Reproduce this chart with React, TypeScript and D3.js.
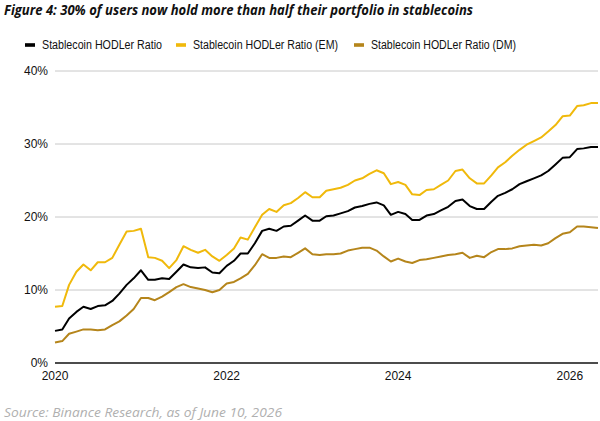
import React, { useEffect } from 'react';
import * as d3 from 'd3';

// monthly values, Jan 2020 .. May 2026 (%)
const overall = [
  4.4, 4.6, 6.1, 7.0, 7.7, 7.4, 7.8, 7.9, 8.5, 9.5, 10.7, 11.6,
  12.7, 11.4, 11.4, 11.6, 11.5, 12.5, 13.5, 13.1, 13.0, 13.1, 12.4, 12.3,
  13.3, 14.0, 15.0, 15.0, 16.4, 18.1, 18.4, 18.1, 18.7, 18.8, 19.5, 20.2,
  19.5, 19.5, 20.1, 20.2, 20.5, 20.8, 21.3, 21.5, 21.8, 22.0, 21.6, 20.3,
  20.7, 20.4, 19.6, 19.6, 20.2, 20.4, 20.9, 21.4, 22.2, 22.4, 21.5, 21.1,
  21.1, 22.1, 22.9, 23.3, 23.8, 24.5, 24.9, 25.3, 25.7, 26.3, 27.2, 28.1,
  28.2, 29.3, 29.4, 29.6, 29.6,
];
const emerging = [
  7.7, 7.8, 10.7, 12.5, 13.5, 12.7, 13.8, 13.8, 14.4, 16.2, 18.0, 18.1,
  18.4, 14.5, 14.4, 14.0, 13.0, 14.1, 16.0, 15.5, 15.1, 15.5, 14.6, 14.0,
  14.8, 15.7, 17.2, 16.9, 18.6, 20.3, 21.1, 20.7, 21.6, 21.9, 22.6, 23.4,
  22.7, 22.7, 23.6, 23.8, 24.0, 24.4, 25.0, 25.3, 25.9, 26.4, 26.0, 24.5,
  24.8, 24.4, 23.1, 23.0, 23.7, 23.8, 24.4, 25.0, 26.3, 26.5, 25.3, 24.6,
  24.6, 25.7, 26.8, 27.5, 28.4, 29.2, 29.9, 30.4, 30.9, 31.7, 32.6, 33.8,
  33.9, 35.2, 35.3, 35.6, 35.6,
];
const developed = [
  2.8, 3.0, 4.0, 4.3, 4.6, 4.6, 4.5, 4.6, 5.2, 5.7, 6.5, 7.4,
  8.9, 8.9, 8.6, 9.1, 9.7, 10.4, 10.8, 10.4, 10.2, 10.0, 9.7, 10.0,
  10.9, 11.1, 11.6, 12.2, 13.4, 14.9, 14.4, 14.4, 14.6, 14.5, 15.1, 15.7,
  14.9, 14.8, 14.9, 14.9, 15.0, 15.4, 15.6, 15.8, 15.8, 15.4, 14.6, 13.9,
  14.3, 13.9, 13.7, 14.1, 14.2, 14.4, 14.6, 14.8, 14.9, 15.1, 14.4, 14.7,
  14.5, 15.2, 15.6, 15.6, 15.7, 16.0, 16.1, 16.2, 16.1, 16.4, 17.1, 17.7,
  17.9, 18.7, 18.7, 18.6, 18.5,
];
const seriesNames = [
  'Stablecoin HODLer Ratio',
  'Stablecoin HODLer Ratio (EM)',
  'Stablecoin HODLer Ratio (DM)',
];
const yTicks = [0, 10, 20, 30, 40];
const xTickYears = [2020, 2022, 2024, 2026];

const colors = ['#000000', '#f0b90b', '#b5851b'];
const months = d3.timeMonth.range(new Date(2020, 0, 1), new Date(2026, 5, 1));

// legend layout (marker left edge, text width as in the original)
const legendX = [25, 176, 354];
const legendW = [120, 145, 145];

export default function App() {
  useEffect(() => {
    document.body.style.margin = '0';
  }, []);

  const x = d3.scaleTime()
    .domain([months[0], months[months.length - 1]])
    .range([55, 598]);
  const y = d3.scaleLinear().domain([0, 40]).range([363, 71]);

  const line = d3.line<number>()
    .x((_, i) => x(months[i]))
    .y(d => y(d));

  const series = [overall, emerging, developed];

  return (
    <svg width={600} height={421} style={{ display: 'block', background: '#fff' }}>
      <text x={4} y={15} fontFamily="'Open Sans', sans-serif" fontWeight={700} fontStyle="italic"
        fontSize={13.5} fill="#111" textLength={469} lengthAdjust="spacingAndGlyphs">
        Figure 4: 30% of users now hold more than half their portfolio in stablecoins
      </text>

      <g fontFamily="'Liberation Sans', Arial, sans-serif" fontSize={12} fill="#111">
        {seriesNames.map((name, i) => (
          <g key={name} transform={`translate(${legendX[i]},45)`}>
            <rect x={0} y={-1.8} width={10} height={3.6} fill={colors[i]} />
            <text x={17} y={4.3} textLength={legendW[i]} lengthAdjust="spacingAndGlyphs">{name}</text>
          </g>
        ))}
      </g>

      <g fontFamily="'Liberation Sans', Arial, sans-serif" fontSize={12} fill="#111">
        {yTicks.map(t => (
          <g key={t}>
            {t > 0 && <line x1={55} x2={598} y1={y(t)} y2={y(t)} stroke="#c8c8c8" strokeWidth={1} />}
            <text x={48} y={y(t) + 4.3} textAnchor="end">{t}%</text>
          </g>
        ))}
        {xTickYears.map(yr => (
          <text key={yr} x={x(new Date(yr, 0, 1))} y={380} textAnchor="middle">{yr}</text>
        ))}
      </g>

      {series.map((s, i) => (
        <path key={i} d={line(s) || ''} fill="none" stroke={colors[i]} strokeWidth={2}
          strokeLinejoin="round" />
      )).reverse()}

      <line x1={55} x2={598} y1={y(0)} y2={y(0)} stroke="#111" strokeWidth={1.3} />

      <text x={4} y={417} fontFamily="'Open Sans', sans-serif" fontStyle="italic" fontSize={13.5}
        fill="#b0b0b0" textLength={278} lengthAdjust="spacingAndGlyphs">
        Source: Binance Research, as of June 10, 2026
      </text>
    </svg>
  );
}
